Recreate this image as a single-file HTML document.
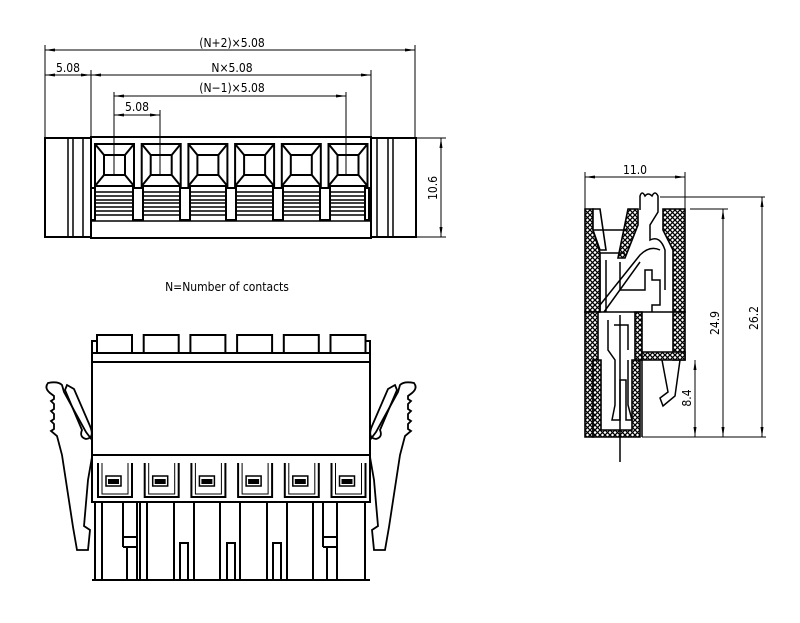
<!DOCTYPE html>
<html><head><meta charset="utf-8"><style>
html,body{margin:0;padding:0;background:#fff}
svg{display:block}
text{font-family:"DejaVu Sans Condensed","Liberation Sans",sans-serif;font-size:12px;fill:#000}
</style></head><body>
<svg width="800" height="623" viewBox="0 0 800 623" xmlns="http://www.w3.org/2000/svg">
<defs>
<pattern id="h" width="5" height="5" patternUnits="userSpaceOnUse">
<rect width="5" height="5" fill="#fff"/>
<path d="M0 0L5 5M5 0L0 5" stroke="#000" stroke-width="1.3"/>
</pattern>
<marker id="a" viewBox="0 0 10 6" refX="10" refY="3" markerWidth="10" markerHeight="6" orient="auto-start-reverse" markerUnits="userSpaceOnUse"><path d="M0 1.5L10 3L0 4.5Z" fill="#000"/></marker>
</defs>
<g fill="none" stroke="#000" stroke-width="1">
<line x1="45" y1="50" x2="415" y2="50" marker-start="url(#a)" marker-end="url(#a)"/>
<line x1="45" y1="75" x2="91" y2="75" marker-start="url(#a)" marker-end="url(#a)"/>
<line x1="91" y1="75" x2="371" y2="75" marker-start="url(#a)" marker-end="url(#a)"/>
<line x1="114" y1="96" x2="346" y2="96" marker-start="url(#a)" marker-end="url(#a)"/>
<line x1="114" y1="115" x2="160" y2="115" marker-start="url(#a)" marker-end="url(#a)"/>
<path d="M45 45V138M415 45V138M91 70V138M371 70V138M114 92V176M160 110V176M346 92V176"/>
<path d="M417 138H446M417 237H446"/>
<line x1="441" y1="138" x2="441" y2="237" marker-start="url(#a)" marker-end="url(#a)"/>
<g stroke-width="2">
<rect x="45" y="138" width="46" height="99"/>
<rect x="371" y="138" width="45" height="99"/>
<rect x="91" y="137" width="280" height="101"/>
</g>
<path d="M68 138V237M73 138V237M83 138V237M377 138V237M388 138V237M393 138V237" stroke-width="1.5"/>
<g id="sq" stroke-width="2">
<rect x="95" y="144" width="39" height="42"/>
<rect x="104" y="155" width="21" height="20"/>
<path d="M95 144L104 155M134 144L125 155M95 186L104 175M134 186L125 175"/>
</g>
<use href="#sq" x="46.7"/><use href="#sq" x="93.4"/><use href="#sq" x="140.1"/><use href="#sq" x="186.8"/><use href="#sq" x="233.5"/>
<path d="M94 192H368M94 196H368M94 200H368M94 203H368M94 207H368M94 211H368M94 215H368" stroke-width="1.6"/>
<g fill="#fff" stroke-width="2">
<rect x="133" y="188" width="10" height="32"/><rect x="180" y="188" width="10" height="32"/><rect x="226" y="188" width="10" height="32"/><rect x="273" y="188" width="10" height="32"/><rect x="320" y="188" width="10" height="32"/>
<rect x="91" y="188" width="4" height="32"/><rect x="365" y="188" width="4" height="32"/>
</g>
<path d="M91 221H371" stroke-width="1.5"/>

<g stroke-width="2">
<g id="tab"><path d="M97 353V335H132V353"/></g>
<use href="#tab" x="46.7"/><use href="#tab" x="93.4"/><use href="#tab" x="140.1"/><use href="#tab" x="186.8"/><use href="#tab" x="233.5"/>
<path d="M92 353V341H97M370 353V341H365"/>
<rect x="92" y="353" width="278" height="149"/>
<path d="M92 362H370M92 455H370"/>
<g id="cell"><path d="M98 463V497H132V463"/><path d="M102 463V494H128V463" stroke-width="1"/><rect x="106" y="476" width="15" height="10" stroke-width="1.5"/><rect x="108" y="479" width="11" height="5" fill="#000" stroke="none"/></g>
<use href="#cell" x="46.7"/><use href="#cell" x="93.4"/><use href="#cell" x="140.1"/><use href="#cell" x="186.8"/><use href="#cell" x="233.5"/>
<path d="M95 502V580M102 502V580M140 502V580M147 502V580M174 502V580M194 502V580M220 502V580M240 502V580M267 502V580M287 502V580M313 502V580M337 502V580M365 502V580"/>
<path d="M180 580V543H188V580M227 580V543H235V580M273 580V543H281V580"/>
<path d="M123 502V547M137 502V547M123 537H137M123 547H137M127 547V580M137 547V580"/>
<path d="M323 502V547M337 502V547M323 537H337M323 547H337M327 547V580"/>
<path d="M92 580H370"/>
<g id="latch" stroke-width="1.8">
<path d="M92 440L86 432L64 392L62 385Q58 381 48 383Q44 388 50 393L54 396V399L51 401L54 404V409L51 411L54 414V419L51 421L54 424V429L51 431L57 436L62 455L73 527L77 550L88 550L90 530L84 526L88 480L92 457"/>
<path d="M67 385L74 389L90 426Q95 438 86 439Q79 437 82 430L65 390Z"/>
</g>
<use href="#latch" transform="translate(462,0) scale(-1,1)"/>
</g>

<line x1="585" y1="177" x2="685" y2="177" marker-start="url(#a)" marker-end="url(#a)"/>
<path d="M585 172V209M685 172V209"/>
<path d="M660 197H765M690 209H728M642 437H766"/>
<line x1="723" y1="209" x2="723" y2="437" marker-start="url(#a)" marker-end="url(#a)"/>
<line x1="762" y1="197" x2="762" y2="437" marker-start="url(#a)" marker-end="url(#a)"/>
<line x1="695" y1="360" x2="695" y2="437" marker-start="url(#a)" marker-end="url(#a)"/>
<g stroke-width="1.6" fill="url(#h)">
<path d="M585 209H593V230L600 253V312H585Z"/>
<path d="M593 209H600L606 250H600L593 230Z" fill="#fff"/>
<path d="M628 209H638V225L625 258H618Z"/>
<path d="M663 209H685V312H673V250L663 230Z"/>
<path d="M585 312H598V360H593V437H585Z"/>
<path d="M593 360H601V430H632V360H640V437H593Z"/>
<path d="M635 312H642V360H635Z"/>
<path d="M673 312H685V360H673Z"/>
<path d="M642 352H685V360H642Z"/>
</g>
<g stroke-width="1.5">
<path d="M598 312H673M600 253H625M593 230H628"/>
<path d="M600 312V260M606 312V260"/>
<path d="M620 262V290H645V270H652V280H660V305H652V312"/>
<path d="M640 210V196Q642 190 645 196Q648 192 652 196Q655 190 658 196V212L650 225V240Q660 235 665 250V290"/>
<path d="M600 305L640 255Q650 245 660 250"/>
<path d="M604 312L640 262"/>
<path d="M608 320V350L615 360V405L612 420H620V380H626V420H632L628 405V360"/>
<path d="M614 325H628V350"/>
<path d="M620 315V462"/>
<path d="M662 360L668 392L660 398L663 406L675 396L680 360"/>
<path d="M642 437V360"/>
</g>
</g>
<text x="232" y="47" text-anchor="middle">(N+2)×5.08</text>
<text x="68" y="72" text-anchor="middle">5.08</text>
<text x="232" y="72" text-anchor="middle">N×5.08</text>
<text x="232" y="92" text-anchor="middle">(N−1)×5.08</text>
<text x="137" y="111" text-anchor="middle">5.08</text>
<text x="227" y="291" text-anchor="middle">N=Number of contacts</text>
<text x="635" y="174" text-anchor="middle">11.0</text>
<text transform="translate(437,188) rotate(-90)" text-anchor="middle">10.6</text>
<text transform="translate(719,323) rotate(-90)" text-anchor="middle">24.9</text>
<text transform="translate(758,318) rotate(-90)" text-anchor="middle">26.2</text>
<text transform="translate(691,398) rotate(-90)" text-anchor="middle">8.4</text>
</svg>
</body></html>
